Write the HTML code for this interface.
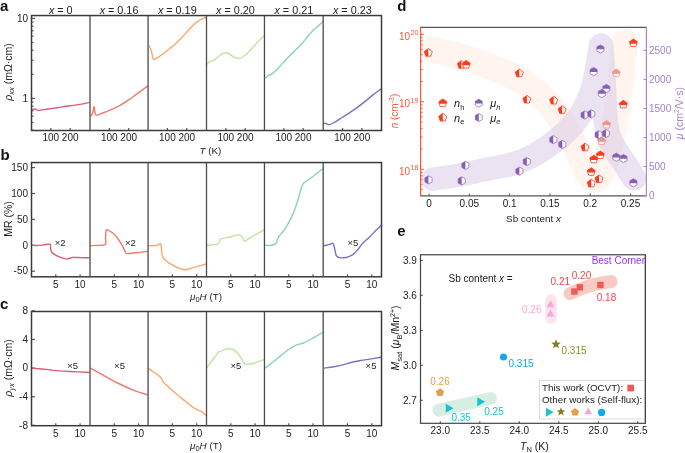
<!DOCTYPE html>
<html><head><meta charset="utf-8"><style>
html,body{margin:0;padding:0;background:#fff;width:685px;height:453px;overflow:hidden}
svg{display:block;will-change:transform}
text{font-family:"Liberation Sans",sans-serif}
</style></head><body>
<svg width="685" height="453" viewBox="0 0 685 453" font-family="Liberation Sans, sans-serif">
<rect width="685" height="453" fill="#fff"/>
<text x="0" y="10.6" font-size="15" text-anchor="start" fill="#111" font-weight="bold">a</text>
<text x="0.5" y="159.5" font-size="15" text-anchor="start" fill="#111" font-weight="bold">b</text>
<text x="0" y="308.7" font-size="15" text-anchor="start" fill="#111" font-weight="bold">c</text>
<text x="397.3" y="10.7" font-size="15" text-anchor="start" fill="#111" font-weight="bold">d</text>
<text x="397.3" y="235.6" font-size="15" text-anchor="start" fill="#111" font-weight="bold">e</text>
<text x="60.75" y="14" font-size="10.8" text-anchor="middle" fill="#222" ><tspan font-style="italic">x</tspan> = 0</text>
<text x="119.03" y="14" font-size="10.8" text-anchor="middle" fill="#222" ><tspan font-style="italic">x</tspan> = 0.16</text>
<text x="177.28" y="14" font-size="10.8" text-anchor="middle" fill="#222" ><tspan font-style="italic">x</tspan> = 0.19</text>
<text x="235.47" y="14" font-size="10.8" text-anchor="middle" fill="#222" ><tspan font-style="italic">x</tspan> = 0.20</text>
<text x="293.82" y="14" font-size="10.8" text-anchor="middle" fill="#222" ><tspan font-style="italic">x</tspan> = 0.21</text>
<text x="352.35" y="14" font-size="10.8" text-anchor="middle" fill="#222" ><tspan font-style="italic">x</tspan> = 0.23</text>
<line x1="31.5" y1="98.4" x2="35" y2="98.4" stroke="#555" stroke-width="1.2"/>
<line x1="31.5" y1="18.4" x2="35" y2="18.4" stroke="#555" stroke-width="1.2"/>
<line x1="31.5" y1="130.24" x2="33.5" y2="130.24" stroke="#555" stroke-width="1.2"/>
<line x1="31.5" y1="122.48" x2="33.5" y2="122.48" stroke="#555" stroke-width="1.2"/>
<line x1="31.5" y1="116.15" x2="33.5" y2="116.15" stroke="#555" stroke-width="1.2"/>
<line x1="31.5" y1="110.79" x2="33.5" y2="110.79" stroke="#555" stroke-width="1.2"/>
<line x1="31.5" y1="106.15" x2="33.5" y2="106.15" stroke="#555" stroke-width="1.2"/>
<line x1="31.5" y1="102.06" x2="33.5" y2="102.06" stroke="#555" stroke-width="1.2"/>
<line x1="31.5" y1="74.32" x2="33.5" y2="74.32" stroke="#555" stroke-width="1.2"/>
<line x1="31.5" y1="60.23" x2="33.5" y2="60.23" stroke="#555" stroke-width="1.2"/>
<line x1="31.5" y1="50.24" x2="33.5" y2="50.24" stroke="#555" stroke-width="1.2"/>
<line x1="31.5" y1="42.48" x2="33.5" y2="42.48" stroke="#555" stroke-width="1.2"/>
<line x1="31.5" y1="36.15" x2="33.5" y2="36.15" stroke="#555" stroke-width="1.2"/>
<line x1="31.5" y1="30.79" x2="33.5" y2="30.79" stroke="#555" stroke-width="1.2"/>
<line x1="31.5" y1="26.15" x2="33.5" y2="26.15" stroke="#555" stroke-width="1.2"/>
<line x1="31.5" y1="22.06" x2="33.5" y2="22.06" stroke="#555" stroke-width="1.2"/>
<text x="28" y="21.6" font-size="10" text-anchor="end" fill="#222" >10</text>
<text x="28" y="101.6" font-size="10" text-anchor="end" fill="#222" >1</text>
<line x1="50.85" y1="130.5" x2="50.85" y2="128" stroke="#555" stroke-width="1.2"/>
<text x="50.85" y="141.3" font-size="10" text-anchor="middle" fill="#222" >100</text>
<line x1="70.2" y1="130.5" x2="70.2" y2="128" stroke="#555" stroke-width="1.2"/>
<text x="70.2" y="141.3" font-size="10" text-anchor="middle" fill="#222" >200</text>
<line x1="109.35" y1="130.5" x2="109.35" y2="128" stroke="#555" stroke-width="1.2"/>
<text x="109.35" y="141.3" font-size="10" text-anchor="middle" fill="#222" >100</text>
<line x1="128.7" y1="130.5" x2="128.7" y2="128" stroke="#555" stroke-width="1.2"/>
<text x="128.7" y="141.3" font-size="10" text-anchor="middle" fill="#222" >200</text>
<line x1="167.4" y1="130.5" x2="167.4" y2="128" stroke="#555" stroke-width="1.2"/>
<text x="167.4" y="141.3" font-size="10" text-anchor="middle" fill="#222" >100</text>
<line x1="186.75" y1="130.5" x2="186.75" y2="128" stroke="#555" stroke-width="1.2"/>
<text x="186.75" y="141.3" font-size="10" text-anchor="middle" fill="#222" >200</text>
<line x1="225.85" y1="130.5" x2="225.85" y2="128" stroke="#555" stroke-width="1.2"/>
<text x="225.85" y="141.3" font-size="10" text-anchor="middle" fill="#222" >100</text>
<line x1="245.2" y1="130.5" x2="245.2" y2="128" stroke="#555" stroke-width="1.2"/>
<text x="245.2" y="141.3" font-size="10" text-anchor="middle" fill="#222" >200</text>
<line x1="283.8" y1="130.5" x2="283.8" y2="128" stroke="#555" stroke-width="1.2"/>
<text x="283.8" y="141.3" font-size="10" text-anchor="middle" fill="#222" >100</text>
<line x1="303.15" y1="130.5" x2="303.15" y2="128" stroke="#555" stroke-width="1.2"/>
<text x="303.15" y="141.3" font-size="10" text-anchor="middle" fill="#222" >200</text>
<line x1="342.55" y1="130.5" x2="342.55" y2="128" stroke="#555" stroke-width="1.2"/>
<text x="342.55" y="141.3" font-size="10" text-anchor="middle" fill="#222" >100</text>
<line x1="361.9" y1="130.5" x2="361.9" y2="128" stroke="#555" stroke-width="1.2"/>
<text x="361.9" y="141.3" font-size="10" text-anchor="middle" fill="#222" >200</text>
<text x="210.5" y="153.8" font-size="9.8" text-anchor="middle" fill="#222" ><tspan font-style="italic">T</tspan> (K)</text>
<text x="0" y="0" font-size="10.5" text-anchor="middle" fill="#222" transform="translate(12.3,72) rotate(-90)"><tspan font-style="italic">ρ</tspan><tspan font-style="italic" font-size="7.5" dy="2">xx</tspan><tspan dy="-2"> (mΩ·cm)</tspan></text>
<path d="M31.8,109.9 C32.1,109.8 33,109.45 33.6,109.3 C34.2,109.15 34.87,108.9 35.4,109 C35.93,109.1 36.2,109.67 36.8,109.9 C37.4,110.13 37.12,110.55 39,110.4 C40.88,110.25 45.08,109.45 48.1,109 C51.12,108.55 54.08,108.15 57.1,107.7 C60.12,107.25 63.18,106.73 66.2,106.3 C69.22,105.87 72.18,105.55 75.2,105.1 C78.22,104.65 81.88,104.05 84.3,103.6 C86.72,103.15 88.8,102.6 89.7,102.4" fill="none" stroke="#db5d76" stroke-width="1.4" stroke-linejoin="round"/>
<path d="M90.6,116.2 C90.85,115.9 91.67,115.3 92.1,114.4 C92.53,113.5 92.9,112.02 93.2,110.8 C93.5,109.58 93.7,107.63 93.9,107.1 C94.1,106.57 94.2,106.53 94.4,107.6 C94.6,108.67 94.73,112.25 95.1,113.5 C95.47,114.75 95.52,115.1 96.6,115.1 C97.68,115.1 99.27,114.37 101.6,113.5 C103.93,112.63 107.58,111.22 110.6,109.9 C113.62,108.58 116.68,107.27 119.7,105.6 C122.72,103.93 125.68,101.98 128.7,99.9 C131.72,97.82 134.62,95.43 137.8,93.1 C140.98,90.77 146.13,87.1 147.8,85.9" fill="none" stroke="#f07a6c" stroke-width="1.4" stroke-linejoin="round"/>
<path d="M148.6,45.3 C148.95,45.88 150.12,47.33 150.7,48.8 C151.28,50.27 151.75,52.53 152.1,54.1 C152.45,55.67 152.45,57.33 152.8,58.2 C153.15,59.07 153.38,59.4 154.2,59.3 C155.02,59.2 156.15,58.57 157.7,57.6 C159.25,56.63 161.55,54.97 163.5,53.5 C165.45,52.03 167.45,50.37 169.4,48.8 C171.35,47.23 173.25,45.85 175.2,44.1 C177.15,42.35 179.15,40.33 181.1,38.3 C183.05,36.27 184.95,34.05 186.9,31.9 C188.85,29.75 190.85,27.25 192.8,25.4 C194.75,23.55 196.65,22.07 198.6,20.8 C200.55,19.53 203.22,18.4 204.5,17.8 C205.78,17.2 206,17.3 206.3,17.2" fill="none" stroke="#fba86e" stroke-width="1.4" stroke-linejoin="round"/>
<path d="M206.8,64.2 C207.43,63.7 209.5,61.82 210.6,61.2 C211.7,60.58 212.3,61.1 213.4,60.5 C214.5,59.9 215.82,58.65 217.2,57.6 C218.58,56.55 220.22,55 221.7,54.2 C223.18,53.4 224.82,52.85 226.1,52.8 C227.38,52.75 228.12,53.17 229.4,53.9 C230.68,54.63 232.33,56.45 233.8,57.2 C235.27,57.95 236.73,58.43 238.2,58.4 C239.67,58.37 240.95,57.97 242.6,57 C244.25,56.03 246.25,54.35 248.1,52.6 C249.95,50.85 251.85,48.52 253.7,46.5 C255.55,44.48 257.45,42.33 259.2,40.5 C260.95,38.67 263.37,36.33 264.2,35.5" fill="none" stroke="#bfe3a0" stroke-width="1.4" stroke-linejoin="round"/>
<path d="M264.8,78.3 C265.48,77.78 267.82,75.85 268.9,75.2 C269.98,74.55 269.88,75.43 271.3,74.4 C272.72,73.37 275.08,71.32 277.4,69 C279.72,66.68 282.62,63.25 285.2,60.5 C287.78,57.75 290.33,55.07 292.9,52.5 C295.47,49.93 298.03,47.88 300.6,45.1 C303.17,42.32 306.12,38.37 308.3,35.8 C310.48,33.23 312.15,31.23 313.7,29.7 C315.25,28.17 316.05,27.97 317.6,26.6 C319.15,25.23 322.1,22.35 323,21.5" fill="none" stroke="#86d4b2" stroke-width="1.4" stroke-linejoin="round"/>
<path d="M323.6,123.3 C324,123.33 325.13,123.27 326,123.5 C326.87,123.73 327.6,124.78 328.8,124.7 C330,124.62 330.98,124.2 333.2,123 C335.42,121.8 338.78,119.6 342.1,117.5 C345.42,115.4 349.42,112.97 353.1,110.4 C356.78,107.83 360.88,104.68 364.2,102.1 C367.52,99.52 370.17,97.12 373,94.9 C375.83,92.68 379.83,89.82 381.2,88.8" fill="none" stroke="#7473c4" stroke-width="1.4" stroke-linejoin="round"/>
<rect x="31.5" y="15.55" width="350.0" height="114.95" fill="none" stroke="#3a3a3a" stroke-width="1.5"/>
<line x1="90" y1="15.55" x2="90" y2="130.5" stroke="#4a4a4a" stroke-width="1.3"/>
<line x1="148.05" y1="15.55" x2="148.05" y2="130.5" stroke="#4a4a4a" stroke-width="1.3"/>
<line x1="206.5" y1="15.55" x2="206.5" y2="130.5" stroke="#4a4a4a" stroke-width="1.3"/>
<line x1="264.45" y1="15.55" x2="264.45" y2="130.5" stroke="#4a4a4a" stroke-width="1.3"/>
<line x1="323.2" y1="15.55" x2="323.2" y2="130.5" stroke="#4a4a4a" stroke-width="1.3"/>
<line x1="31.5" y1="271.2" x2="35" y2="271.2" stroke="#555" stroke-width="1.2"/>
<text x="28" y="274.4" font-size="10" text-anchor="end" fill="#222" >-50</text>
<line x1="31.5" y1="245.3" x2="35" y2="245.3" stroke="#555" stroke-width="1.2"/>
<text x="28" y="248.5" font-size="10" text-anchor="end" fill="#222" >0</text>
<line x1="31.5" y1="219.4" x2="35" y2="219.4" stroke="#555" stroke-width="1.2"/>
<text x="28" y="222.6" font-size="10" text-anchor="end" fill="#222" >50</text>
<line x1="31.5" y1="193.5" x2="35" y2="193.5" stroke="#555" stroke-width="1.2"/>
<text x="28" y="196.7" font-size="10" text-anchor="end" fill="#222" >100</text>
<line x1="31.5" y1="167.6" x2="35" y2="167.6" stroke="#555" stroke-width="1.2"/>
<text x="28" y="170.8" font-size="10" text-anchor="end" fill="#222" >150</text>
<line x1="55.8" y1="276.8" x2="55.8" y2="274.3" stroke="#555" stroke-width="1.2"/>
<text x="55.8" y="288" font-size="10" text-anchor="middle" fill="#222" >5</text>
<line x1="80.1" y1="276.8" x2="80.1" y2="274.3" stroke="#555" stroke-width="1.2"/>
<text x="80.1" y="288" font-size="10" text-anchor="middle" fill="#222" >10</text>
<line x1="114.3" y1="276.8" x2="114.3" y2="274.3" stroke="#555" stroke-width="1.2"/>
<text x="114.3" y="288" font-size="10" text-anchor="middle" fill="#222" >5</text>
<line x1="138.6" y1="276.8" x2="138.6" y2="274.3" stroke="#555" stroke-width="1.2"/>
<text x="138.6" y="288" font-size="10" text-anchor="middle" fill="#222" >10</text>
<line x1="172.35" y1="276.8" x2="172.35" y2="274.3" stroke="#555" stroke-width="1.2"/>
<text x="172.35" y="288" font-size="10" text-anchor="middle" fill="#222" >5</text>
<line x1="196.65" y1="276.8" x2="196.65" y2="274.3" stroke="#555" stroke-width="1.2"/>
<text x="196.65" y="288" font-size="10" text-anchor="middle" fill="#222" >10</text>
<line x1="230.8" y1="276.8" x2="230.8" y2="274.3" stroke="#555" stroke-width="1.2"/>
<text x="230.8" y="288" font-size="10" text-anchor="middle" fill="#222" >5</text>
<line x1="255.1" y1="276.8" x2="255.1" y2="274.3" stroke="#555" stroke-width="1.2"/>
<text x="255.1" y="288" font-size="10" text-anchor="middle" fill="#222" >10</text>
<line x1="288.75" y1="276.8" x2="288.75" y2="274.3" stroke="#555" stroke-width="1.2"/>
<text x="288.75" y="288" font-size="10" text-anchor="middle" fill="#222" >5</text>
<line x1="313.05" y1="276.8" x2="313.05" y2="274.3" stroke="#555" stroke-width="1.2"/>
<text x="313.05" y="288" font-size="10" text-anchor="middle" fill="#222" >10</text>
<line x1="347.5" y1="276.8" x2="347.5" y2="274.3" stroke="#555" stroke-width="1.2"/>
<text x="347.5" y="288" font-size="10" text-anchor="middle" fill="#222" >5</text>
<line x1="371.8" y1="276.8" x2="371.8" y2="274.3" stroke="#555" stroke-width="1.2"/>
<text x="371.8" y="288" font-size="10" text-anchor="middle" fill="#222" >10</text>
<text x="206" y="300.2" font-size="9.8" text-anchor="middle" fill="#222" ><tspan font-style="italic">μ</tspan><tspan font-size="7.5" dy="2">0</tspan><tspan font-style="italic" dy="-2">H</tspan> (T)</text>
<text x="0" y="0" font-size="10.5" text-anchor="middle" fill="#222" transform="translate(12.3,219) rotate(-90)">MR (%)</text>
<path d="M31.6,245.4 C32.83,245.4 37,245.48 39,245.4 C41,245.32 41.78,245.1 43.6,244.9 C45.42,244.7 48.73,243.75 49.9,244.2 C51.07,244.65 50.37,246.35 50.6,247.6 C50.83,248.85 50.67,250.57 51.3,251.7 C51.93,252.83 52.97,253.5 54.4,254.4 C55.83,255.3 57.93,256.35 59.9,257.1 C61.87,257.85 64.4,258.75 66.2,258.9 C68,259.05 69.65,258.25 70.7,258 C71.75,257.75 70.83,257.47 72.5,257.4 C74.17,257.33 77.85,257.53 80.7,257.6 C83.55,257.67 88.12,257.77 89.6,257.8" fill="none" stroke="#db5d76" stroke-width="1.4" stroke-linejoin="round"/>
<path d="M90.5,245.6 C91.58,245.57 94.55,245.58 97,245.4 C99.45,245.22 103.77,245.63 105.2,244.5 C106.63,243.37 105.45,240.95 105.6,238.6 C105.75,236.25 105.57,231.73 106.1,230.4 C106.63,229.07 107.75,230.22 108.8,230.6 C109.85,230.98 111.18,231.75 112.4,232.7 C113.62,233.65 114.88,234.87 116.1,236.3 C117.32,237.73 118.5,239.42 119.7,241.3 C120.9,243.18 122.25,245.63 123.3,247.6 C124.35,249.57 125.1,252.12 126,253.1 C126.9,254.08 126.73,253.58 128.7,253.5 C130.67,253.42 134.62,252.95 137.8,252.6 C140.98,252.25 146.13,251.6 147.8,251.4" fill="none" stroke="#f07a6c" stroke-width="1.4" stroke-linejoin="round"/>
<path d="M148.5,245.7 C149.28,245.7 151.65,245.8 153.2,245.7 C154.75,245.6 156.58,245.45 157.8,245.1 C159.02,244.75 159.93,243.32 160.5,243.6 C161.07,243.88 160.98,245.22 161.2,246.8 C161.42,248.38 161.55,251.45 161.8,253.1 C162.05,254.75 162.02,255.42 162.7,256.7 C163.38,257.98 164.47,259.52 165.9,260.8 C167.33,262.08 169.33,263.27 171.3,264.4 C173.27,265.53 175.43,266.7 177.7,267.6 C179.97,268.5 182.65,269.68 184.9,269.8 C187.15,269.92 188.93,268.9 191.2,268.3 C193.47,267.7 196,266.92 198.5,266.2 C201,265.48 204.92,264.37 206.2,264" fill="none" stroke="#fba86e" stroke-width="1.4" stroke-linejoin="round"/>
<path d="M206.8,245.3 C207.83,245.22 211.13,245.02 213,244.8 C214.87,244.58 216.93,244.55 218,244 C219.07,243.45 218.95,242.3 219.4,241.5 C219.85,240.7 219.8,239.77 220.7,239.2 C221.6,238.63 223.07,238.5 224.8,238.1 C226.53,237.7 228.98,237.33 231.1,236.8 C233.22,236.27 235.83,235.03 237.5,234.9 C239.17,234.77 240.2,235.37 241.1,236 C242,236.63 242.3,237.87 242.9,238.7 C243.5,239.53 243.65,241.07 244.7,241 C245.75,240.93 247.23,239.47 249.2,238.3 C251.17,237.13 254,235.43 256.5,234 C259,232.57 262.92,230.42 264.2,229.7" fill="none" stroke="#bfe3a0" stroke-width="1.4" stroke-linejoin="round"/>
<path d="M264.9,245.3 C266.03,245.3 269.85,245.63 271.7,245.3 C273.55,244.97 275.02,244.38 276,243.3 C276.98,242.22 277.02,240.1 277.6,238.8 C278.18,237.5 278.53,236.78 279.5,235.5 C280.47,234.22 282.1,232.82 283.4,231.1 C284.7,229.38 285.68,228.12 287.3,225.2 C288.92,222.28 291.48,217.32 293.1,213.6 C294.72,209.88 295.87,206.32 297,202.9 C298.13,199.48 299.08,195.87 299.9,193.1 C300.72,190.33 301.25,187.98 301.9,186.3 C302.55,184.62 302.67,184.13 303.8,183 C304.93,181.87 306.58,181.05 308.7,179.5 C310.82,177.95 314.17,175.48 316.5,173.7 C318.83,171.92 321.67,169.62 322.7,168.8" fill="none" stroke="#86d4b2" stroke-width="1.4" stroke-linejoin="round"/>
<path d="M323.6,245.5 C324.13,245.45 325.62,245.45 326.8,245.2 C327.98,244.95 329.65,244.3 330.7,244 C331.75,243.7 332.53,243.03 333.1,243.4 C333.67,243.77 333.77,244.93 334.1,246.2 C334.43,247.47 334.7,249.38 335.1,251 C335.5,252.62 335.78,254.8 336.5,255.9 C337.22,257 338.27,257.28 339.4,257.6 C340.53,257.92 341.83,257.93 343.3,257.8 C344.77,257.67 346.58,257.37 348.2,256.8 C349.82,256.23 351.38,255.6 353,254.4 C354.62,253.2 356.43,251.3 357.9,249.6 C359.37,247.9 359.87,246.32 361.8,244.2 C363.73,242.08 367.08,239.25 369.5,236.9 C371.92,234.55 374.35,232.03 376.3,230.1 C378.25,228.17 380.38,226.1 381.2,225.3" fill="none" stroke="#7473c4" stroke-width="1.4" stroke-linejoin="round"/>
<rect x="31.5" y="162.55" width="350.0" height="114.25" fill="none" stroke="#3a3a3a" stroke-width="1.5"/>
<line x1="90" y1="162.55" x2="90" y2="276.8" stroke="#4a4a4a" stroke-width="1.3"/>
<line x1="148.05" y1="162.55" x2="148.05" y2="276.8" stroke="#4a4a4a" stroke-width="1.3"/>
<line x1="206.5" y1="162.55" x2="206.5" y2="276.8" stroke="#4a4a4a" stroke-width="1.3"/>
<line x1="264.45" y1="162.55" x2="264.45" y2="276.8" stroke="#4a4a4a" stroke-width="1.3"/>
<line x1="323.2" y1="162.55" x2="323.2" y2="276.8" stroke="#4a4a4a" stroke-width="1.3"/>
<text x="54.8" y="245.8" font-size="9.5" text-anchor="start" fill="#222" >×2</text>
<text x="124.9" y="245.8" font-size="9.5" text-anchor="start" fill="#222" >×2</text>
<text x="347.5" y="245.8" font-size="9.5" text-anchor="start" fill="#222" >×5</text>
<line x1="31.5" y1="425.3" x2="35" y2="425.3" stroke="#555" stroke-width="1.2"/>
<text x="28" y="428.5" font-size="10" text-anchor="end" fill="#222" >-8</text>
<line x1="31.5" y1="396.7" x2="35" y2="396.7" stroke="#555" stroke-width="1.2"/>
<text x="28" y="399.9" font-size="10" text-anchor="end" fill="#222" >-4</text>
<line x1="31.5" y1="368.1" x2="35" y2="368.1" stroke="#555" stroke-width="1.2"/>
<text x="28" y="371.3" font-size="10" text-anchor="end" fill="#222" >0</text>
<line x1="31.5" y1="339.5" x2="35" y2="339.5" stroke="#555" stroke-width="1.2"/>
<text x="28" y="342.7" font-size="10" text-anchor="end" fill="#222" >4</text>
<line x1="31.5" y1="310.9" x2="35" y2="310.9" stroke="#555" stroke-width="1.2"/>
<text x="28" y="314.1" font-size="10" text-anchor="end" fill="#222" >8</text>
<line x1="55.8" y1="425.7" x2="55.8" y2="423.2" stroke="#555" stroke-width="1.2"/>
<text x="55.8" y="437" font-size="10" text-anchor="middle" fill="#222" >5</text>
<line x1="80.1" y1="425.7" x2="80.1" y2="423.2" stroke="#555" stroke-width="1.2"/>
<text x="80.1" y="437" font-size="10" text-anchor="middle" fill="#222" >10</text>
<line x1="114.3" y1="425.7" x2="114.3" y2="423.2" stroke="#555" stroke-width="1.2"/>
<text x="114.3" y="437" font-size="10" text-anchor="middle" fill="#222" >5</text>
<line x1="138.6" y1="425.7" x2="138.6" y2="423.2" stroke="#555" stroke-width="1.2"/>
<text x="138.6" y="437" font-size="10" text-anchor="middle" fill="#222" >10</text>
<line x1="172.35" y1="425.7" x2="172.35" y2="423.2" stroke="#555" stroke-width="1.2"/>
<text x="172.35" y="437" font-size="10" text-anchor="middle" fill="#222" >5</text>
<line x1="196.65" y1="425.7" x2="196.65" y2="423.2" stroke="#555" stroke-width="1.2"/>
<text x="196.65" y="437" font-size="10" text-anchor="middle" fill="#222" >10</text>
<line x1="230.8" y1="425.7" x2="230.8" y2="423.2" stroke="#555" stroke-width="1.2"/>
<text x="230.8" y="437" font-size="10" text-anchor="middle" fill="#222" >5</text>
<line x1="255.1" y1="425.7" x2="255.1" y2="423.2" stroke="#555" stroke-width="1.2"/>
<text x="255.1" y="437" font-size="10" text-anchor="middle" fill="#222" >10</text>
<line x1="288.75" y1="425.7" x2="288.75" y2="423.2" stroke="#555" stroke-width="1.2"/>
<text x="288.75" y="437" font-size="10" text-anchor="middle" fill="#222" >5</text>
<line x1="313.05" y1="425.7" x2="313.05" y2="423.2" stroke="#555" stroke-width="1.2"/>
<text x="313.05" y="437" font-size="10" text-anchor="middle" fill="#222" >10</text>
<line x1="347.5" y1="425.7" x2="347.5" y2="423.2" stroke="#555" stroke-width="1.2"/>
<text x="347.5" y="437" font-size="10" text-anchor="middle" fill="#222" >5</text>
<line x1="371.8" y1="425.7" x2="371.8" y2="423.2" stroke="#555" stroke-width="1.2"/>
<text x="371.8" y="437" font-size="10" text-anchor="middle" fill="#222" >10</text>
<text x="206" y="448.9" font-size="9.8" text-anchor="middle" fill="#222" ><tspan font-style="italic">μ</tspan><tspan font-size="7.5" dy="2">0</tspan><tspan font-style="italic" dy="-2">H</tspan> (T)</text>
<text x="0" y="0" font-size="10.5" text-anchor="middle" fill="#222" transform="translate(12.3,368) rotate(-90)"><tspan font-style="italic">ρ</tspan><tspan font-style="italic" font-size="7.5" dy="2">yx</tspan><tspan dy="-2"> (mΩ·cm)</tspan></text>
<path d="M31.8,368.1 C35,368.4 47.5,369.52 51,369.9 C54.5,370.28 49.63,370.13 52.8,370.4 C55.97,370.67 63.87,371.15 70,371.5 C76.13,371.85 86.33,372.33 89.6,372.5" fill="none" stroke="#db5d76" stroke-width="1.4" stroke-linejoin="round"/>
<path d="M90.5,368.1 C92.08,368.98 95.48,370.92 100,373.4 C104.52,375.88 111.75,380.08 117.6,383 C123.45,385.92 130.03,388.92 135.1,390.9 C140.17,392.88 145.85,394.23 148,394.9" fill="none" stroke="#f07a6c" stroke-width="1.4" stroke-linejoin="round"/>
<path d="M148.6,368.6 C149.48,369.2 152.02,370.87 153.9,372.2 C155.78,373.53 158.57,375.43 159.9,376.6 C161.23,377.77 161.38,378.32 161.9,379.2 C162.42,380.08 162.12,380.8 163,381.9 C163.88,383 165.4,384.15 167.2,385.8 C169,387.45 171.37,389.7 173.8,391.8 C176.23,393.9 179.37,396.42 181.8,398.4 C184.23,400.38 186.2,401.98 188.4,403.7 C190.6,405.42 192.8,407.37 195,408.7 C197.2,410.03 199.72,410.55 201.6,411.7 C203.48,412.85 205.52,414.95 206.3,415.6" fill="none" stroke="#fba86e" stroke-width="1.4" stroke-linejoin="round"/>
<path d="M206.7,367.9 C207.45,366.87 209.68,363.72 211.2,361.7 C212.72,359.68 214.52,357.48 215.8,355.8 C217.08,354.12 218.15,352.27 218.9,351.6 C219.65,350.93 219.47,352.1 220.3,351.8 C221.13,351.5 222.55,350.33 223.9,349.8 C225.25,349.27 226.88,348.65 228.4,348.6 C229.92,348.55 231.48,348.75 233,349.5 C234.52,350.25 236.15,351.67 237.5,353.1 C238.85,354.53 239.97,356.33 241.1,358.1 C242.23,359.87 243.4,362.65 244.3,363.7 C245.2,364.75 245.37,364.35 246.5,364.4 C247.63,364.45 249.13,364.45 251.1,364 C253.07,363.55 256.12,362.42 258.3,361.7 C260.48,360.98 263.22,360.03 264.2,359.7" fill="none" stroke="#bfe3a0" stroke-width="1.4" stroke-linejoin="round"/>
<path d="M264.7,368.1 C265.75,367.35 268.45,365.55 271,363.6 C273.55,361.65 277.02,358.8 280,356.4 C282.98,354 286.22,351.08 288.9,349.2 C291.58,347.32 293.7,346.13 296.1,345.1 C298.5,344.07 300.6,344.1 303.3,343 C306,341.9 309.02,340.3 312.3,338.5 C315.58,336.7 321.22,333.25 323,332.2" fill="none" stroke="#86d4b2" stroke-width="1.4" stroke-linejoin="round"/>
<path d="M323.9,368.1 C325.55,367.87 330.65,367.23 333.8,366.7 C336.95,366.17 339.8,365.63 342.8,364.9 C345.8,364.17 348.82,363.03 351.8,362.3 C354.78,361.57 357.72,361.03 360.7,360.5 C363.68,359.97 366.28,359.63 369.7,359.1 C373.12,358.57 379.28,357.6 381.2,357.3" fill="none" stroke="#7473c4" stroke-width="1.4" stroke-linejoin="round"/>
<rect x="31.5" y="311.5" width="350.0" height="114.19999999999999" fill="none" stroke="#3a3a3a" stroke-width="1.5"/>
<line x1="90" y1="311.5" x2="90" y2="425.7" stroke="#4a4a4a" stroke-width="1.3"/>
<line x1="148.05" y1="311.5" x2="148.05" y2="425.7" stroke="#4a4a4a" stroke-width="1.3"/>
<line x1="206.5" y1="311.5" x2="206.5" y2="425.7" stroke="#4a4a4a" stroke-width="1.3"/>
<line x1="264.45" y1="311.5" x2="264.45" y2="425.7" stroke="#4a4a4a" stroke-width="1.3"/>
<line x1="323.2" y1="311.5" x2="323.2" y2="425.7" stroke="#4a4a4a" stroke-width="1.3"/>
<text x="67.3" y="369.2" font-size="9.5" text-anchor="start" fill="#222" >×5</text>
<text x="114.1" y="369.2" font-size="9.5" text-anchor="start" fill="#222" >×5</text>
<text x="230.5" y="369.2" font-size="9.5" text-anchor="start" fill="#222" >×5</text>
<text x="365.6" y="369.2" font-size="9.5" text-anchor="start" fill="#222" >×5</text>
<defs><clipPath id="cd"><rect x="420.6" y="27.4" width="225.79999999999995" height="168.5"/></clipPath></defs>
<g clip-path="url(#cd)">
<path d="M433,49.5 C437.5,50.67 450.5,53.7 460,56.5 C469.5,59.3 481.67,63.18 490,66.3 C498.33,69.42 503.33,71.82 510,75.2 C516.67,78.58 522.67,80.8 530,86.6 C537.33,92.4 547,101.1 554,110 C561,118.9 567.33,131.67 572,140 C576.67,148.33 579.33,154.33 582,160 C584.67,165.67 586,170.75 588,174 C590,177.25 592,179.17 594,179.5 C596,179.83 598.17,178.42 600,176 C601.83,173.58 603.33,170.17 605,165 C606.67,159.83 608.42,151.67 610,145 C611.58,138.33 613.17,131.67 614.5,125 C615.83,118.33 617.08,110.83 618,105 C618.92,99.17 619.25,96.67 620,90 C620.75,83.33 621.67,73 622.5,65 C623.33,57 624.58,45.83 625,42" fill="none" stroke="#ffe9dd" stroke-opacity="0.5" stroke-width="26" stroke-linecap="round" stroke-linejoin="round"/>
<g opacity="0.5"><path d="M433,179.2 C437.5,178.5 450.5,176.77 460,175 C469.5,173.23 481.67,170.33 490,168.6 C498.33,166.87 503.33,166.5 510,164.6 C516.67,162.7 523.33,160.47 530,157.2 C536.67,153.93 543.83,149.37 550,145 C556.17,140.63 562.17,135.67 567,131 C571.83,126.33 575.67,121.83 579,117 C582.33,112.17 584.75,106.83 587,102 C589.25,97.17 591,93 592.5,88 C594,83 595,77.17 596,72 C597,66.83 597.75,61.42 598.5,57 C599.25,52.58 600.17,47.42 600.5,45.5" fill="none" stroke="#d7c7e5" stroke-width="23.5" stroke-linecap="round" stroke-linejoin="round"/><path d="M601,45.5 C601.22,47.92 601.88,54.25 602.3,60 C602.72,65.75 603.13,73.33 603.5,80 C603.87,86.67 604.17,93.67 604.5,100 C604.83,106.33 605,112.67 605.5,118 C606,123.33 606.5,127.83 607.5,132 C608.5,136.17 609.83,139.5 611.5,143 C613.17,146.5 614.92,149 617.5,153 C620.08,157 624.25,162.75 627,167 C629.75,171.25 632.83,176.58 634,178.5" fill="none" stroke="#d7c7e5" stroke-width="24.5" stroke-linecap="round" stroke-linejoin="round"/></g>
</g>
<g><polygon points="428.3,48.6 432.29,51.5 430.77,56.2 425.83,56.2 424.31,51.5" fill="#fff" stroke="#fa3c1c" stroke-width="0.8"/><clipPath id="c5"><rect x="423.1" y="47.6" width="5.2" height="10.4"/></clipPath><polygon points="428.3,48.6 432.29,51.5 430.77,56.2 425.83,56.2 424.31,51.5" fill="#fa3c1c" clip-path="url(#c5)"/></g>
<g><polygon points="461.4,60.6 465.39,63.5 463.87,68.2 458.93,68.2 457.41,63.5" fill="#fff" stroke="#fa3c1c" stroke-width="0.8"/><clipPath id="c6"><rect x="456.2" y="59.6" width="5.2" height="10.4"/></clipPath><polygon points="461.4,60.6 465.39,63.5 463.87,68.2 458.93,68.2 457.41,63.5" fill="#fa3c1c" clip-path="url(#c6)"/></g>
<g><polygon points="519.3,69.2 523.29,72.1 521.77,76.8 516.83,76.8 515.31,72.1" fill="#fff" stroke="#fa3c1c" stroke-width="0.8"/><clipPath id="c7"><rect x="514.1" y="68.2" width="5.2" height="10.4"/></clipPath><polygon points="519.3,69.2 523.29,72.1 521.77,76.8 516.83,76.8 515.31,72.1" fill="#fa3c1c" clip-path="url(#c7)"/></g>
<g><polygon points="526.9,95.4 530.89,98.3 529.37,103 524.43,103 522.91,98.3" fill="#fff" stroke="#fa3c1c" stroke-width="0.8"/><clipPath id="c8"><rect x="521.7" y="94.4" width="5.2" height="10.4"/></clipPath><polygon points="526.9,95.4 530.89,98.3 529.37,103 524.43,103 522.91,98.3" fill="#fa3c1c" clip-path="url(#c8)"/></g>
<g><polygon points="553.7,96.4 557.69,99.3 556.17,104 551.23,104 549.71,99.3" fill="#fff" stroke="#fa3c1c" stroke-width="0.8"/><clipPath id="c9"><rect x="548.5" y="95.4" width="5.2" height="10.4"/></clipPath><polygon points="553.7,96.4 557.69,99.3 556.17,104 551.23,104 549.71,99.3" fill="#fa3c1c" clip-path="url(#c9)"/></g>
<g><polygon points="562.1,105.8 566.09,108.7 564.57,113.4 559.63,113.4 558.11,108.7" fill="#fff" stroke="#fa3c1c" stroke-width="0.8"/><clipPath id="c10"><rect x="556.9" y="104.8" width="5.2" height="10.4"/></clipPath><polygon points="562.1,105.8 566.09,108.7 564.57,113.4 559.63,113.4 558.11,108.7" fill="#fa3c1c" clip-path="url(#c10)"/></g>
<g><polygon points="585,143.2 588.99,146.1 587.47,150.8 582.53,150.8 581.01,146.1" fill="#fff" stroke="#fa3c1c" stroke-width="0.8"/><clipPath id="c11"><rect x="579.8" y="142.2" width="5.2" height="10.4"/></clipPath><polygon points="585,143.2 588.99,146.1 587.47,150.8 582.53,150.8 581.01,146.1" fill="#fa3c1c" clip-path="url(#c11)"/></g>
<g><polygon points="591.2,179.3 595.19,182.2 593.67,186.9 588.73,186.9 587.21,182.2" fill="#fff" stroke="#fa3c1c" stroke-width="0.8"/><clipPath id="c12"><rect x="586" y="178.3" width="5.2" height="10.4"/></clipPath><polygon points="591.2,179.3 595.19,182.2 593.67,186.9 588.73,186.9 587.21,182.2" fill="#fa3c1c" clip-path="url(#c12)"/></g>
<g><polygon points="599,174.9 602.99,177.8 601.47,182.5 596.53,182.5 595.01,177.8" fill="#fff" stroke="#fa3c1c" stroke-width="0.8"/><clipPath id="c13"><rect x="593.8" y="173.9" width="5.2" height="10.4"/></clipPath><polygon points="599,174.9 602.99,177.8 601.47,182.5 596.53,182.5 595.01,177.8" fill="#fa3c1c" clip-path="url(#c13)"/></g>
<g><polygon points="466.2,60.4 470.19,63.3 468.67,68 463.73,68 462.21,63.3" fill="#fff" stroke="#fa3c1c" stroke-width="0.8"/><clipPath id="c14"><rect x="461" y="59.4" width="10.4" height="5.8"/></clipPath><polygon points="466.2,60.4 470.19,63.3 468.67,68 463.73,68 462.21,63.3" fill="#fa3c1c" clip-path="url(#c14)"/></g>
<g><polygon points="633.4,38.9 637.39,41.8 635.87,46.5 630.93,46.5 629.41,41.8" fill="#fff" stroke="#fa3c1c" stroke-width="0.8"/><clipPath id="c15"><rect x="628.2" y="37.9" width="10.4" height="5.8"/></clipPath><polygon points="633.4,38.9 637.39,41.8 635.87,46.5 630.93,46.5 629.41,41.8" fill="#fa3c1c" clip-path="url(#c15)"/></g>
<g><polygon points="623.3,100.3 627.29,103.2 625.77,107.9 620.83,107.9 619.31,103.2" fill="#fff" stroke="#fa3c1c" stroke-width="0.8"/><clipPath id="c16"><rect x="618.1" y="99.3" width="10.4" height="5.8"/></clipPath><polygon points="623.3,100.3 627.29,103.2 625.77,107.9 620.83,107.9 619.31,103.2" fill="#fa3c1c" clip-path="url(#c16)"/></g>
<g><polygon points="593.8,155.2 597.79,158.1 596.27,162.8 591.33,162.8 589.81,158.1" fill="#fff" stroke="#fa3c1c" stroke-width="0.8"/><clipPath id="c17"><rect x="588.6" y="154.2" width="10.4" height="5.8"/></clipPath><polygon points="593.8,155.2 597.79,158.1 596.27,162.8 591.33,162.8 589.81,158.1" fill="#fa3c1c" clip-path="url(#c17)"/></g>
<g><polygon points="600.3,150.9 604.29,153.8 602.77,158.5 597.83,158.5 596.31,153.8" fill="#fff" stroke="#fa3c1c" stroke-width="0.8"/><clipPath id="c18"><rect x="595.1" y="149.9" width="10.4" height="5.8"/></clipPath><polygon points="600.3,150.9 604.29,153.8 602.77,158.5 597.83,158.5 596.31,153.8" fill="#fa3c1c" clip-path="url(#c18)"/></g>
<g><polygon points="591.2,167.7 595.19,170.6 593.67,175.3 588.73,175.3 587.21,170.6" fill="#fff" stroke="#fa3c1c" stroke-width="0.8"/><clipPath id="c19"><rect x="586" y="166.7" width="10.4" height="5.8"/></clipPath><polygon points="591.2,167.7 595.19,170.6 593.67,175.3 588.73,175.3 587.21,170.6" fill="#fa3c1c" clip-path="url(#c19)"/></g>
<g opacity="0.75"><polygon points="616.3,69 620.29,71.9 618.77,76.6 613.83,76.6 612.31,71.9" fill="#fff" stroke="#f07a6c" stroke-width="0.8"/><clipPath id="c20"><rect x="611.1" y="68" width="10.4" height="5.8"/></clipPath><polygon points="616.3,69 620.29,71.9 618.77,76.6 613.83,76.6 612.31,71.9" fill="#f07a6c" clip-path="url(#c20)"/></g>
<g opacity="0.75"><polygon points="606.6,120.4 610.59,123.3 609.07,128 604.13,128 602.61,123.3" fill="#fff" stroke="#f07a6c" stroke-width="0.8"/><clipPath id="c21"><rect x="601.4" y="119.4" width="10.4" height="5.8"/></clipPath><polygon points="606.6,120.4 610.59,123.3 609.07,128 604.13,128 602.61,123.3" fill="#f07a6c" clip-path="url(#c21)"/></g>
<g opacity="0.75"><polygon points="601.7,137 605.69,139.9 604.17,144.6 599.23,144.6 597.71,139.9" fill="#fff" stroke="#f07a6c" stroke-width="0.8"/><clipPath id="c22"><rect x="596.5" y="136" width="10.4" height="5.8"/></clipPath><polygon points="601.7,137 605.69,139.9 604.17,144.6 599.23,144.6 597.71,139.9" fill="#f07a6c" clip-path="url(#c22)"/></g>
<polygon points="600.4,44.9 603.95,46.95 603.95,51.05 600.4,53.1 596.85,51.05 596.85,46.95" fill="#fff" stroke="#8a5cb6" stroke-width="0.7"/><clipPath id="c23"><rect x="595.3" y="43.9" width="10.2" height="5.4"/></clipPath><polygon points="600.4,44.9 603.95,46.95 603.95,51.05 600.4,53.1 596.85,51.05 596.85,46.95" fill="#8a5cb6" clip-path="url(#c23)"/>
<polygon points="593.6,67.5 597.15,69.55 597.15,73.65 593.6,75.7 590.05,73.65 590.05,69.55" fill="#fff" stroke="#8a5cb6" stroke-width="0.7"/><clipPath id="c24"><rect x="588.5" y="66.5" width="10.2" height="5.4"/></clipPath><polygon points="593.6,67.5 597.15,69.55 597.15,73.65 593.6,75.7 590.05,73.65 590.05,69.55" fill="#8a5cb6" clip-path="url(#c24)"/>
<polygon points="606.3,84.4 609.85,86.45 609.85,90.55 606.3,92.6 602.75,90.55 602.75,86.45" fill="#fff" stroke="#8a5cb6" stroke-width="0.7"/><clipPath id="c25"><rect x="601.2" y="83.4" width="10.2" height="5.4"/></clipPath><polygon points="606.3,84.4 609.85,86.45 609.85,90.55 606.3,92.6 602.75,90.55 602.75,86.45" fill="#8a5cb6" clip-path="url(#c25)"/>
<polygon points="601.8,89.4 605.35,91.45 605.35,95.55 601.8,97.6 598.25,95.55 598.25,91.45" fill="#fff" stroke="#8a5cb6" stroke-width="0.7"/><clipPath id="c26"><rect x="596.7" y="88.4" width="10.2" height="5.4"/></clipPath><polygon points="601.8,89.4 605.35,91.45 605.35,95.55 601.8,97.6 598.25,95.55 598.25,91.45" fill="#8a5cb6" clip-path="url(#c26)"/>
<polygon points="616.3,153.1 619.85,155.15 619.85,159.25 616.3,161.3 612.75,159.25 612.75,155.15" fill="#fff" stroke="#8a5cb6" stroke-width="0.7"/><clipPath id="c27"><rect x="611.2" y="152.1" width="10.2" height="5.4"/></clipPath><polygon points="616.3,153.1 619.85,155.15 619.85,159.25 616.3,161.3 612.75,159.25 612.75,155.15" fill="#8a5cb6" clip-path="url(#c27)"/>
<polygon points="623.5,154.4 627.05,156.45 627.05,160.55 623.5,162.6 619.95,160.55 619.95,156.45" fill="#fff" stroke="#8a5cb6" stroke-width="0.7"/><clipPath id="c28"><rect x="618.4" y="153.4" width="10.2" height="5.4"/></clipPath><polygon points="623.5,154.4 627.05,156.45 627.05,160.55 623.5,162.6 619.95,160.55 619.95,156.45" fill="#8a5cb6" clip-path="url(#c28)"/>
<polygon points="633.4,178.8 636.95,180.85 636.95,184.95 633.4,187 629.85,184.95 629.85,180.85" fill="#fff" stroke="#8a5cb6" stroke-width="0.7"/><clipPath id="c29"><rect x="628.3" y="177.8" width="10.2" height="5.4"/></clipPath><polygon points="633.4,178.8 636.95,180.85 636.95,184.95 633.4,187 629.85,184.95 629.85,180.85" fill="#8a5cb6" clip-path="url(#c29)"/>
<polygon points="428.5,175.8 432.05,177.85 432.05,181.95 428.5,184 424.95,181.95 424.95,177.85" fill="#fff" stroke="#8a5cb6" stroke-width="0.7"/><clipPath id="c30"><rect x="423.4" y="174.8" width="5.1" height="10.2"/></clipPath><polygon points="428.5,175.8 432.05,177.85 432.05,181.95 428.5,184 424.95,181.95 424.95,177.85" fill="#8a5cb6" clip-path="url(#c30)"/>
<polygon points="461.7,176.8 465.25,178.85 465.25,182.95 461.7,185 458.15,182.95 458.15,178.85" fill="#fff" stroke="#8a5cb6" stroke-width="0.7"/><clipPath id="c31"><rect x="456.6" y="175.8" width="5.1" height="10.2"/></clipPath><polygon points="461.7,176.8 465.25,178.85 465.25,182.95 461.7,185 458.15,182.95 458.15,178.85" fill="#8a5cb6" clip-path="url(#c31)"/>
<polygon points="465.4,161.3 468.95,163.35 468.95,167.45 465.4,169.5 461.85,167.45 461.85,163.35" fill="#fff" stroke="#8a5cb6" stroke-width="0.7"/><clipPath id="c32"><rect x="460.3" y="160.3" width="5.1" height="10.2"/></clipPath><polygon points="465.4,161.3 468.95,163.35 468.95,167.45 465.4,169.5 461.85,167.45 461.85,163.35" fill="#8a5cb6" clip-path="url(#c32)"/>
<polygon points="519.4,167.1 522.95,169.15 522.95,173.25 519.4,175.3 515.85,173.25 515.85,169.15" fill="#fff" stroke="#8a5cb6" stroke-width="0.7"/><clipPath id="c33"><rect x="514.3" y="166.1" width="5.1" height="10.2"/></clipPath><polygon points="519.4,167.1 522.95,169.15 522.95,173.25 519.4,175.3 515.85,173.25 515.85,169.15" fill="#8a5cb6" clip-path="url(#c33)"/>
<polygon points="526.8,157.5 530.35,159.55 530.35,163.65 526.8,165.7 523.25,163.65 523.25,159.55" fill="#fff" stroke="#8a5cb6" stroke-width="0.7"/><clipPath id="c34"><rect x="521.7" y="156.5" width="5.1" height="10.2"/></clipPath><polygon points="526.8,157.5 530.35,159.55 530.35,163.65 526.8,165.7 523.25,163.65 523.25,159.55" fill="#8a5cb6" clip-path="url(#c34)"/>
<polygon points="553.3,135.6 556.85,137.65 556.85,141.75 553.3,143.8 549.75,141.75 549.75,137.65" fill="#fff" stroke="#8a5cb6" stroke-width="0.7"/><clipPath id="c35"><rect x="548.2" y="134.6" width="5.1" height="10.2"/></clipPath><polygon points="553.3,135.6 556.85,137.65 556.85,141.75 553.3,143.8 549.75,141.75 549.75,137.65" fill="#8a5cb6" clip-path="url(#c35)"/>
<polygon points="562.3,140.3 565.85,142.35 565.85,146.45 562.3,148.5 558.75,146.45 558.75,142.35" fill="#fff" stroke="#8a5cb6" stroke-width="0.7"/><clipPath id="c36"><rect x="557.2" y="139.3" width="5.1" height="10.2"/></clipPath><polygon points="562.3,140.3 565.85,142.35 565.85,146.45 562.3,148.5 558.75,146.45 558.75,142.35" fill="#8a5cb6" clip-path="url(#c36)"/>
<polygon points="584.6,110.9 588.15,112.95 588.15,117.05 584.6,119.1 581.05,117.05 581.05,112.95" fill="#fff" stroke="#8a5cb6" stroke-width="0.7"/><clipPath id="c37"><rect x="579.5" y="109.9" width="5.1" height="10.2"/></clipPath><polygon points="584.6,110.9 588.15,112.95 588.15,117.05 584.6,119.1 581.05,117.05 581.05,112.95" fill="#8a5cb6" clip-path="url(#c37)"/>
<polygon points="591.3,109.8 594.85,111.85 594.85,115.95 591.3,118 587.75,115.95 587.75,111.85" fill="#fff" stroke="#8a5cb6" stroke-width="0.7"/><clipPath id="c38"><rect x="586.2" y="108.8" width="5.1" height="10.2"/></clipPath><polygon points="591.3,109.8 594.85,111.85 594.85,115.95 591.3,118 587.75,115.95 587.75,111.85" fill="#8a5cb6" clip-path="url(#c38)"/>
<polygon points="598.6,130.7 602.15,132.75 602.15,136.85 598.6,138.9 595.05,136.85 595.05,132.75" fill="#fff" stroke="#8a5cb6" stroke-width="0.7"/><clipPath id="c39"><rect x="593.5" y="129.7" width="5.1" height="10.2"/></clipPath><polygon points="598.6,130.7 602.15,132.75 602.15,136.85 598.6,138.9 595.05,136.85 595.05,132.75" fill="#8a5cb6" clip-path="url(#c39)"/>
<polygon points="605.9,129.4 609.45,131.45 609.45,135.55 605.9,137.6 602.35,135.55 602.35,131.45" fill="#fff" stroke="#8a5cb6" stroke-width="0.7"/><clipPath id="c40"><rect x="600.8" y="128.4" width="5.1" height="10.2"/></clipPath><polygon points="605.9,129.4 609.45,131.45 609.45,135.55 605.9,137.6 602.35,135.55 602.35,131.45" fill="#8a5cb6" clip-path="url(#c40)"/>
<g><polygon points="442.8,98.9 446.89,101.87 445.33,106.68 440.27,106.68 438.71,101.87" fill="#fff" stroke="#fa3c1c" stroke-width="0.8"/><clipPath id="c41"><rect x="437.5" y="97.9" width="10.6" height="5.9"/></clipPath><polygon points="442.8,98.9 446.89,101.87 445.33,106.68 440.27,106.68 438.71,101.87" fill="#fa3c1c" clip-path="url(#c41)"/></g>
<g><polygon points="442.8,113.3 446.89,116.27 445.33,121.08 440.27,121.08 438.71,116.27" fill="#fff" stroke="#fa3c1c" stroke-width="0.8"/><clipPath id="c42"><rect x="437.5" y="112.3" width="5.3" height="10.6"/></clipPath><polygon points="442.8,113.3 446.89,116.27 445.33,121.08 440.27,121.08 438.71,116.27" fill="#fa3c1c" clip-path="url(#c42)"/></g>
<polygon points="478.8,99.2 482.26,101.2 482.26,105.2 478.8,107.2 475.34,105.2 475.34,101.2" fill="#fff" stroke="#8a5cb6" stroke-width="0.7"/><clipPath id="c43"><rect x="473.8" y="98.2" width="10" height="5.3"/></clipPath><polygon points="478.8,99.2 482.26,101.2 482.26,105.2 478.8,107.2 475.34,105.2 475.34,101.2" fill="#8a5cb6" clip-path="url(#c43)"/>
<polygon points="478.8,113.6 482.26,115.6 482.26,119.6 478.8,121.6 475.34,119.6 475.34,115.6" fill="#fff" stroke="#8a5cb6" stroke-width="0.7"/><clipPath id="c44"><rect x="473.8" y="112.6" width="5" height="10"/></clipPath><polygon points="478.8,113.6 482.26,115.6 482.26,119.6 478.8,121.6 475.34,119.6 475.34,115.6" fill="#8a5cb6" clip-path="url(#c44)"/>
<text x="454" y="107" font-size="11" text-anchor="start" fill="#222" ><tspan font-style="italic">n</tspan><tspan font-size="7.5" dy="2.5">h</tspan></text>
<text x="454" y="121.5" font-size="11" text-anchor="start" fill="#222" ><tspan font-style="italic">n</tspan><tspan font-size="7.5" dy="2.5">e</tspan></text>
<text x="490.3" y="107" font-size="11" text-anchor="start" fill="#222" ><tspan font-style="italic">μ</tspan><tspan font-size="7.5" dy="2.5" font-style="italic">h</tspan></text>
<text x="490.3" y="121.5" font-size="11" text-anchor="start" fill="#222" ><tspan font-style="italic">μ</tspan><tspan font-size="7.5" dy="2.5" font-style="italic">e</tspan></text>
<line x1="420.6" y1="27.4" x2="646.4" y2="27.4" stroke="#555" stroke-width="1.2"/>
<line x1="420.6" y1="195.9" x2="646.4" y2="195.9" stroke="#555" stroke-width="1.2"/>
<line x1="420.6" y1="26.8" x2="420.6" y2="196.5" stroke="#f05a3c" stroke-width="1.2"/>
<line x1="646.4" y1="26.8" x2="646.4" y2="196.5" stroke="#a787c9" stroke-width="1.2"/>
<line x1="420.6" y1="169.3" x2="424.1" y2="169.3" stroke="#f05a3c" stroke-width="1"/>
<line x1="420.6" y1="101.8" x2="424.1" y2="101.8" stroke="#f05a3c" stroke-width="1"/>
<line x1="420.6" y1="34.3" x2="424.1" y2="34.3" stroke="#f05a3c" stroke-width="1"/>
<line x1="420.6" y1="189.62" x2="422.6" y2="189.62" stroke="#f05a3c" stroke-width="1"/>
<line x1="420.6" y1="184.27" x2="422.6" y2="184.27" stroke="#f05a3c" stroke-width="1"/>
<line x1="420.6" y1="179.76" x2="422.6" y2="179.76" stroke="#f05a3c" stroke-width="1"/>
<line x1="420.6" y1="175.84" x2="422.6" y2="175.84" stroke="#f05a3c" stroke-width="1"/>
<line x1="420.6" y1="172.39" x2="422.6" y2="172.39" stroke="#f05a3c" stroke-width="1"/>
<line x1="420.6" y1="148.98" x2="422.6" y2="148.98" stroke="#f05a3c" stroke-width="1"/>
<line x1="420.6" y1="137.09" x2="422.6" y2="137.09" stroke="#f05a3c" stroke-width="1"/>
<line x1="420.6" y1="128.66" x2="422.6" y2="128.66" stroke="#f05a3c" stroke-width="1"/>
<line x1="420.6" y1="122.12" x2="422.6" y2="122.12" stroke="#f05a3c" stroke-width="1"/>
<line x1="420.6" y1="116.77" x2="422.6" y2="116.77" stroke="#f05a3c" stroke-width="1"/>
<line x1="420.6" y1="112.26" x2="422.6" y2="112.26" stroke="#f05a3c" stroke-width="1"/>
<line x1="420.6" y1="108.34" x2="422.6" y2="108.34" stroke="#f05a3c" stroke-width="1"/>
<line x1="420.6" y1="104.89" x2="422.6" y2="104.89" stroke="#f05a3c" stroke-width="1"/>
<line x1="420.6" y1="81.48" x2="422.6" y2="81.48" stroke="#f05a3c" stroke-width="1"/>
<line x1="420.6" y1="69.59" x2="422.6" y2="69.59" stroke="#f05a3c" stroke-width="1"/>
<line x1="420.6" y1="61.16" x2="422.6" y2="61.16" stroke="#f05a3c" stroke-width="1"/>
<line x1="420.6" y1="54.62" x2="422.6" y2="54.62" stroke="#f05a3c" stroke-width="1"/>
<line x1="420.6" y1="49.27" x2="422.6" y2="49.27" stroke="#f05a3c" stroke-width="1"/>
<line x1="420.6" y1="44.76" x2="422.6" y2="44.76" stroke="#f05a3c" stroke-width="1"/>
<line x1="420.6" y1="40.84" x2="422.6" y2="40.84" stroke="#f05a3c" stroke-width="1"/>
<line x1="420.6" y1="37.39" x2="422.6" y2="37.39" stroke="#f05a3c" stroke-width="1"/>
<text x="399" y="174.8" font-size="10" text-anchor="start" fill="#f4593a" >10<tspan font-size="7.2" dx="0.4" dy="-4.6">18</tspan></text>
<text x="399" y="107.3" font-size="10" text-anchor="start" fill="#f4593a" >10<tspan font-size="7.2" dx="0.4" dy="-4.6">19</tspan></text>
<text x="399" y="39.8" font-size="10" text-anchor="start" fill="#f4593a" >10<tspan font-size="7.2" dx="0.4" dy="-4.6">20</tspan></text>
<line x1="643.4" y1="195.6" x2="646.4" y2="195.6" stroke="#a787c9" stroke-width="1"/>
<text x="649" y="198.9" font-size="10" text-anchor="start" fill="#a383c6" >0</text>
<line x1="643.4" y1="166.56" x2="646.4" y2="166.56" stroke="#a787c9" stroke-width="1"/>
<text x="649" y="169.86" font-size="10" text-anchor="start" fill="#a383c6" >500</text>
<line x1="643.4" y1="137.52" x2="646.4" y2="137.52" stroke="#a787c9" stroke-width="1"/>
<text x="649" y="140.82" font-size="10" text-anchor="start" fill="#a383c6" >1000</text>
<line x1="643.4" y1="108.48" x2="646.4" y2="108.48" stroke="#a787c9" stroke-width="1"/>
<text x="649" y="111.78" font-size="10" text-anchor="start" fill="#a383c6" >1500</text>
<line x1="643.4" y1="79.44" x2="646.4" y2="79.44" stroke="#a787c9" stroke-width="1"/>
<text x="649" y="82.74" font-size="10" text-anchor="start" fill="#a383c6" >2000</text>
<line x1="643.4" y1="50.4" x2="646.4" y2="50.4" stroke="#a787c9" stroke-width="1"/>
<text x="649" y="53.7" font-size="10" text-anchor="start" fill="#a383c6" >2500</text>
<line x1="429" y1="195.9" x2="429" y2="193.4" stroke="#555" stroke-width="1"/>
<text x="429" y="206.5" font-size="10" text-anchor="middle" fill="#222" >0</text>
<line x1="469.3" y1="195.9" x2="469.3" y2="193.4" stroke="#555" stroke-width="1"/>
<text x="469.3" y="206.5" font-size="10" text-anchor="middle" fill="#222" >0.05</text>
<line x1="509.6" y1="195.9" x2="509.6" y2="193.4" stroke="#555" stroke-width="1"/>
<text x="509.6" y="206.5" font-size="10" text-anchor="middle" fill="#222" >0.1</text>
<line x1="549.9" y1="195.9" x2="549.9" y2="193.4" stroke="#555" stroke-width="1"/>
<text x="549.9" y="206.5" font-size="10" text-anchor="middle" fill="#222" >0.15</text>
<line x1="590.2" y1="195.9" x2="590.2" y2="193.4" stroke="#555" stroke-width="1"/>
<text x="590.2" y="206.5" font-size="10" text-anchor="middle" fill="#222" >0.2</text>
<line x1="630.5" y1="195.9" x2="630.5" y2="193.4" stroke="#555" stroke-width="1"/>
<text x="630.5" y="206.5" font-size="10" text-anchor="middle" fill="#222" >0.25</text>
<text x="533.5" y="222.3" font-size="9.9" text-anchor="middle" fill="#222" >Sb content <tspan font-style="italic">x</tspan></text>
<text x="0" y="0" font-size="10" text-anchor="middle" fill="#f4593a" transform="translate(397.7,111) rotate(-90)"><tspan font-style="italic">n</tspan> (cm<tspan font-size="7" dy="-4">-3</tspan><tspan dy="4">)</tspan></text>
<text x="0" y="0" font-size="10.5" text-anchor="middle" fill="#a383c6" transform="translate(682.5,113) rotate(-90)"><tspan font-style="italic">μ</tspan> (cm<tspan font-size="7" dy="-4">2</tspan><tspan dy="4">/V·s)</tspan></text>
<line x1="439" y1="410" x2="490.5" y2="398.5" stroke="#d6efe2" stroke-width="13" stroke-linecap="round" stroke-opacity="1"/>
<path d="M570,293.6 C571.67,292.87 576.33,290.6 580,289.2 C583.67,287.8 588,286.3 592,285.2 C596,284.1 600.83,283.2 604,282.6 C607.17,282 609.83,281.77 611,281.6" fill="none" stroke="#f8cbc2" stroke-width="13" stroke-linecap="round"/>
<line x1="551" y1="300" x2="551" y2="318" stroke="#fde3ee" stroke-width="11.5" stroke-linecap="round" stroke-opacity="1"/>
<rect x="420.5" y="254.75" width="224.89999999999998" height="168.55" fill="none" stroke="#444" stroke-width="1.2"/>
<line x1="420.5" y1="260.3" x2="422.7" y2="260.3" stroke="#444" stroke-width="1"/>
<text x="416.8" y="263.5" font-size="10" text-anchor="end" fill="#222" >3.9</text>
<line x1="420.5" y1="295.3" x2="422.7" y2="295.3" stroke="#444" stroke-width="1"/>
<text x="416.8" y="298.5" font-size="10" text-anchor="end" fill="#222" >3.6</text>
<line x1="420.5" y1="330.3" x2="422.7" y2="330.3" stroke="#444" stroke-width="1"/>
<text x="416.8" y="333.5" font-size="10" text-anchor="end" fill="#222" >3.3</text>
<line x1="420.5" y1="365.3" x2="422.7" y2="365.3" stroke="#444" stroke-width="1"/>
<text x="416.8" y="368.5" font-size="10" text-anchor="end" fill="#222" >3.0</text>
<line x1="420.5" y1="400.3" x2="422.7" y2="400.3" stroke="#444" stroke-width="1"/>
<text x="416.8" y="403.5" font-size="10" text-anchor="end" fill="#222" >2.7</text>
<line x1="440.3" y1="423.3" x2="440.3" y2="421.3" stroke="#444" stroke-width="1"/>
<text x="440.3" y="434" font-size="10" text-anchor="middle" fill="#222" >23.0</text>
<line x1="479.8" y1="423.3" x2="479.8" y2="421.3" stroke="#444" stroke-width="1"/>
<text x="479.8" y="434" font-size="10" text-anchor="middle" fill="#222" >23.5</text>
<line x1="519.3" y1="423.3" x2="519.3" y2="421.3" stroke="#444" stroke-width="1"/>
<text x="519.3" y="434" font-size="10" text-anchor="middle" fill="#222" >24.0</text>
<line x1="558.8" y1="423.3" x2="558.8" y2="421.3" stroke="#444" stroke-width="1"/>
<text x="558.8" y="434" font-size="10" text-anchor="middle" fill="#222" >24.5</text>
<line x1="598.3" y1="423.3" x2="598.3" y2="421.3" stroke="#444" stroke-width="1"/>
<text x="598.3" y="434" font-size="10" text-anchor="middle" fill="#222" >25.0</text>
<line x1="637.8" y1="423.3" x2="637.8" y2="421.3" stroke="#444" stroke-width="1"/>
<text x="637.8" y="434" font-size="10" text-anchor="middle" fill="#222" >25.5</text>
<text x="534.5" y="449.6" font-size="10.5" text-anchor="middle" fill="#222" ><tspan font-style="italic">T</tspan><tspan font-size="7.5" dy="2.5">N</tspan><tspan dy="-2.5"> (K)</tspan></text>
<text x="0" y="0" font-size="10.5" text-anchor="middle" fill="#222" transform="translate(399,338) rotate(-90)"><tspan font-style="italic">M</tspan><tspan font-size="7.5" dy="2.5">sat</tspan><tspan dy="-2.5"> (</tspan><tspan font-style="italic">μ</tspan><tspan font-size="7.5" dy="2.5">B</tspan><tspan dy="-2.5">/Mn</tspan><tspan font-size="7" dy="-4">2+</tspan><tspan dy="4">)</tspan></text>
<text x="645" y="264.3" font-size="10" text-anchor="end" fill="#9b30f0" >Best Corner</text>
<text x="448.5" y="281.5" font-size="10" text-anchor="start" fill="#222" >Sb content <tspan font-style="italic">x</tspan> =</text>
<rect x="571.2" y="288.3" width="6.4" height="6.4" fill="#ee5a58"/>
<rect x="576.6" y="284.1" width="6.4" height="6.4" fill="#ee5a58"/>
<rect x="597.2" y="281.8" width="6.4" height="6.4" fill="#ee5a58"/>
<text x="560.3" y="285.3" font-size="10" text-anchor="middle" fill="#ee4a48" >0.21</text>
<text x="581.5" y="278.8" font-size="10" text-anchor="middle" fill="#ee4a48" >0.20</text>
<text x="606.5" y="300.6" font-size="10" text-anchor="middle" fill="#ee4a48" >0.18</text>
<polygon points="550.6,300.34 554.6,307.27 546.6,307.27" fill="#fba8d8"/>
<polygon points="550.6,309.54 554.6,316.47 546.6,316.47" fill="#fba8d8"/>
<text x="541.5" y="312.6" font-size="10" text-anchor="end" fill="#fba8d8" >0.26</text>
<polygon points="556,339.3 557.23,342.6 560.76,342.75 558,344.95 558.94,348.35 556,346.4 553.06,348.35 554,344.95 551.24,342.75 554.77,342.6" fill="#7f7f1f"/>
<text x="561.5" y="353.5" font-size="10" text-anchor="start" fill="#8c8c2a" >0.315</text>
<circle cx="503.5" cy="357" r="3.6" fill="#14a8e6"/>
<text x="508.5" y="366.5" font-size="10" text-anchor="start" fill="#14a8e6" >0.315</text>
<polygon points="440,388.3 444.09,391.27 442.53,396.08 437.47,396.08 435.91,391.27" fill="#e1a04c"/>
<text x="440" y="384.5" font-size="10" text-anchor="middle" fill="#e1a04c" >0.26</text>
<polygon points="445.78,403.8 453.58,408.3 445.78,412.8" fill="#18c3cd"/>
<polygon points="477.28,397.3 485.08,401.8 477.28,406.3" fill="#18c3cd"/>
<text x="461.2" y="421.3" font-size="10" text-anchor="middle" fill="#18c3cd" >0.35</text>
<text x="494" y="414.6" font-size="10" text-anchor="middle" fill="#18c3cd" >0.25</text>
<rect x="539.5" y="380.5" width="105" height="38.5" fill="#fff" stroke="#d6cdf0" stroke-width="0.8"/>
<text x="542" y="391" font-size="9.8" text-anchor="start" fill="#222" >This work (OCVT):</text>
<rect x="627.3" y="384.7" width="6.7" height="6.7" fill="#ee5a58"/>
<text x="542" y="402.7" font-size="9.8" text-anchor="start" fill="#222" >Other works (Self-flux):</text>
<polygon points="545.88,407.7 553.68,412.2 545.88,416.7" fill="#18c3cd"/>
<polygon points="561,407.2 562.14,410.24 565.37,410.38 562.84,412.4 563.7,415.52 561,413.73 558.3,415.52 559.16,412.4 556.63,410.38 559.86,410.24" fill="#7f7f1f"/>
<polygon points="575,408 578.99,410.9 577.47,415.6 572.53,415.6 571.01,410.9" fill="#e1a04c"/>
<polygon points="588.2,407.44 592.2,414.37 584.2,414.37" fill="#fba8d8"/>
<circle cx="601.6" cy="412.4" r="3.6" fill="#14a8e6"/>
<line x1="645.4" y1="254.75" x2="645.4" y2="423.3" stroke="#444" stroke-width="1.2"/>
</svg>
</body></html>
